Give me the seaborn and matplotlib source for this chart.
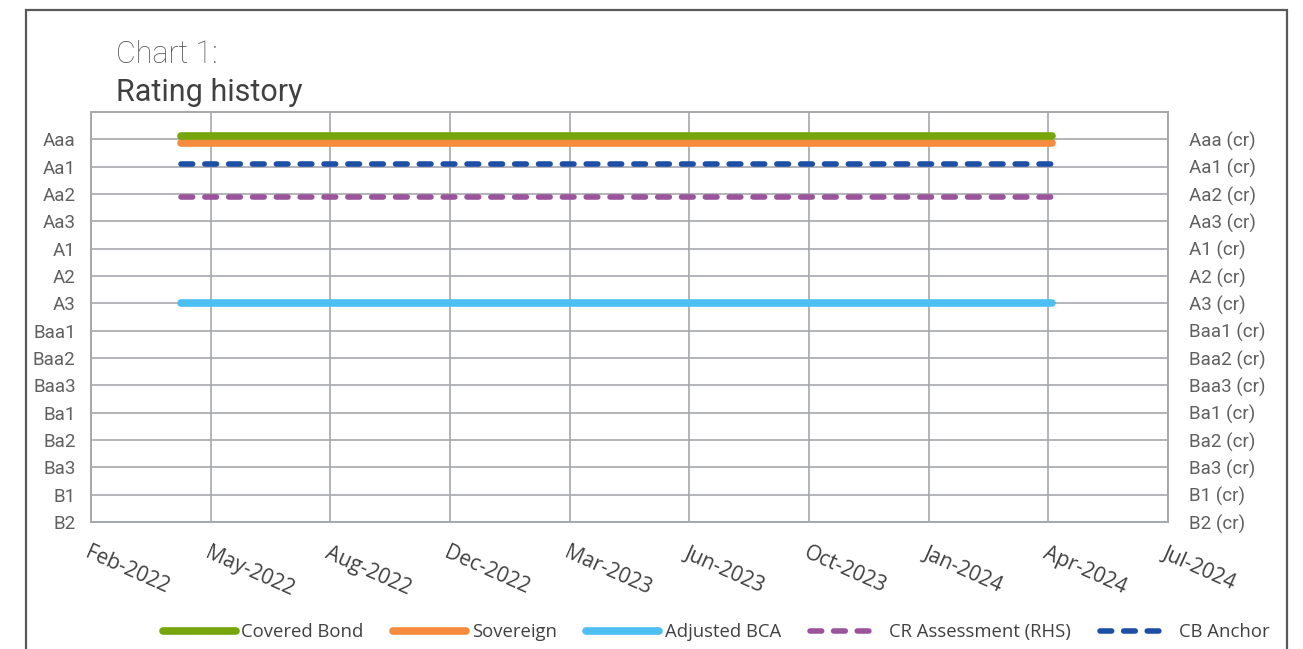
import pandas as pd
import seaborn as sns
import matplotlib.pyplot as plt
from matplotlib.lines import Line2D
from matplotlib.patches import Rectangle

# rating scale (index 1 = Aaa at the top)
ratings = ["Aaa", "Aa1", "Aa2", "Aa3", "A1", "A2", "A3", "Baa1", "Baa2",
           "Baa3", "Ba1", "Ba2", "Ba3", "B1", "B2"]
ratings_cr = [r + " (cr)" for r in ratings]

# series (rating index, slightly offset where lines would overlap)
dates = pd.to_datetime(["2022-04-25", "2024-04-22"])
covered_bond = [0.87, 0.87]
sovereign = [1.15, 1.15]
adjusted_bca = [7, 7]
cr_assessment = [3.1, 3.1]
cb_anchor = [1.9, 1.9]

tick_start = "2022-02-09"
tick_labels = ["Feb-2022", "May-2022", "Aug-2022", "Dec-2022", "Mar-2023",
               "Jun-2023", "Oct-2023", "Jan-2024", "Apr-2024", "Jul-2024"]

sns.set_theme(style="white")
plt.rcParams["font.family"] = ["Open Sans", "DejaVu Sans"]

grid_c = "#A5A8AB"
text_c = "#606060"
dark_c = "#404040"
colors = {"Covered Bond": "#76A50C", "Sovereign": "#F58B3C", "Adjusted BCA": "#4DBFF2",
          "CR Assessment (RHS)": "#9A549B", "CB Anchor": "#1E4FA6"}

fig = plt.figure(figsize=(13.03, 6.49), dpi=100)
ax = fig.add_axes([91 / 1303, 1 - 522 / 649, (1168 - 91) / 1303, (522 - 112) / 649])
ax2 = ax.twinx()

lw_solid = 5.5
lw_dash = 4
dash = (2.1, 2.19)
# legend sample: three dashes then a long gap
dash_legend = (2.1, 2.15, 2.1, 2.15, 2.1, 12)

sns.lineplot(x=dates, y=covered_bond, ax=ax, color=colors["Covered Bond"], lw=lw_solid,
             solid_capstyle="round", zorder=5)
sns.lineplot(x=dates, y=sovereign, ax=ax, color=colors["Sovereign"], lw=lw_solid,
             solid_capstyle="round", zorder=4)
sns.lineplot(x=dates, y=adjusted_bca, ax=ax, color=colors["Adjusted BCA"], lw=lw_solid,
             solid_capstyle="round", zorder=4)
sns.lineplot(x=dates, y=cb_anchor, ax=ax, color=colors["CB Anchor"], lw=lw_dash,
             dashes=dash, dash_capstyle="round", zorder=4)
sns.lineplot(x=dates, y=cr_assessment, ax=ax2, color=colors["CR Assessment (RHS)"], lw=lw_dash,
             dashes=dash, dash_capstyle="round", zorder=4)

ticks = pd.date_range(tick_start, periods=len(tick_labels), freq="100D")
for a in (ax, ax2):
    a.set_ylim(15, 0)
    a.set_xlim(ticks[0], ticks[-1])
    a.set_xlabel("")
    a.set_ylabel("")
    for s in a.spines.values():
        s.set_color(grid_c)
        s.set_linewidth(1.2)

ax.set_yticks(range(1, 16))
ax.set_yticklabels(ratings, fontfamily="Roboto", fontsize=13.5, color=text_c)
ax2.set_yticks(range(1, 16))
ax2.set_yticklabels(ratings_cr, fontfamily="Roboto", fontsize=13.5, color=text_c)
ax.tick_params(axis="y", length=0, pad=11)
ax2.tick_params(axis="y", length=0, pad=15)

ax.set_xticks(ticks)
ax.set_xticklabels(tick_labels, rotation=-24, ha="left", va="top",
                   rotation_mode="anchor", fontsize=15, color=dark_c)
ax.tick_params(axis="x", length=0, pad=15)

ax.grid(True, color=grid_c, lw=1.2)
ax.set_axisbelow(True)

# legend along the bottom
order = ["Covered Bond", "Sovereign", "Adjusted BCA", "CR Assessment (RHS)", "CB Anchor"]
handles = []
for name in order:
    if name in ("CR Assessment (RHS)", "CB Anchor"):
        handles.append(Line2D([], [], color=colors[name], lw=lw_dash, dashes=dash_legend,
                              dash_capstyle="round"))
    else:
        handles.append(Line2D([], [], color=colors[name], lw=lw_solid, solid_capstyle="round"))
fig.legend(handles, order, loc="center", bbox_to_anchor=(716 / 1303, 1 - 632 / 649),
           ncol=5, frameon=False, fontsize=13.3, handlelength=3.95, handletextpad=0.3,
           columnspacing=1.6, labelcolor=dark_c)

# title
fig.text(116 / 1303, 1 - 63 / 649, "Chart 1:", fontsize=22, fontfamily="Roboto",
         fontweight="light", color="#555555", va="baseline")
fig.text(116 / 1303, 1 - 101 / 649, "Rating history", fontsize=22, fontfamily="Roboto",
         color=dark_c, va="baseline")

# outer frame
fig.add_artist(Rectangle((26 / 1303, -0.1), (1287 - 26) / 1303, 1.1 - 10 / 649,
                         transform=fig.transFigure, fill=False, edgecolor="#595959", lw=1.6))

fig.savefig("out.png", dpi=100)
